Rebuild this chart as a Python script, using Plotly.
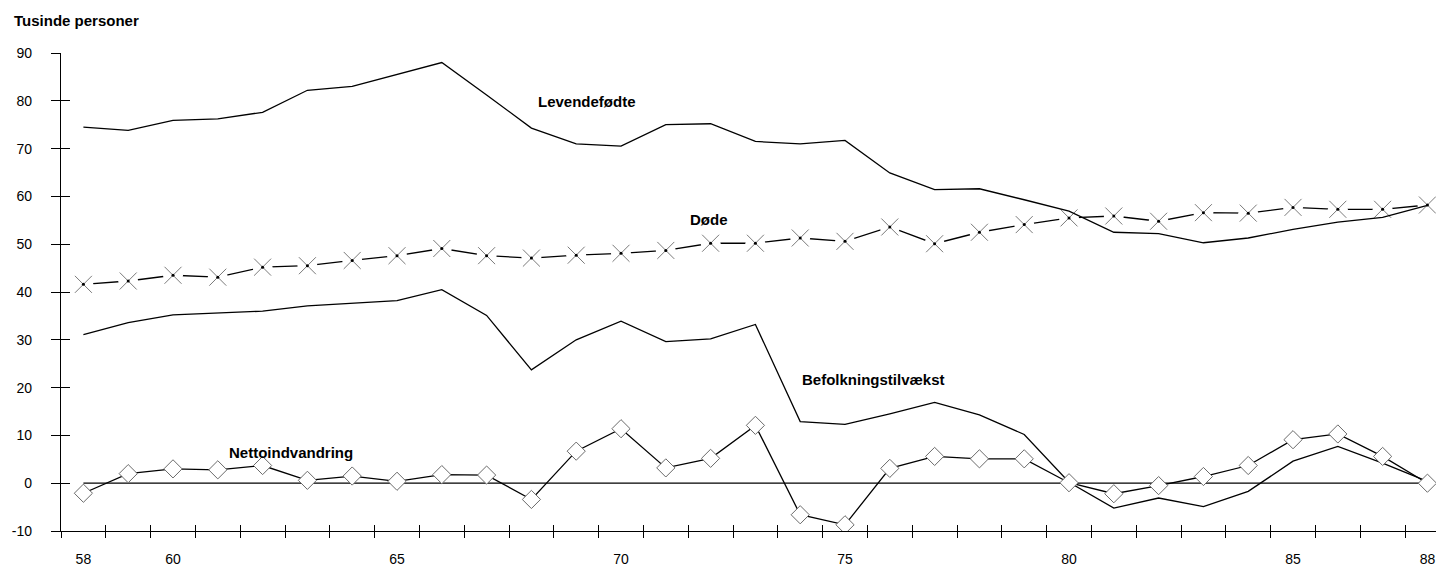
import plotly.graph_objects as go

years = list(range(58, 89))

levendefodte = [74.5, 73.8, 75.9, 76.2, 77.6, 82.2, 83.0, 85.5, 88.0, 81.2,
                74.3, 71.0, 70.5, 75.0, 75.2, 71.5, 71.0, 71.7, 64.9, 61.4,
                61.6, 59.3, 56.9, 52.5, 52.2, 50.3, 51.3, 53.1, 54.6, 55.6, 58.1]

dode = [41.6, 42.3, 43.5, 43.1, 45.2, 45.5, 46.6, 47.6, 49.1, 47.6,
        47.1, 47.7, 48.1, 48.7, 50.2, 50.2, 51.3, 50.6, 53.6, 50.1,
        52.5, 54.1, 55.5, 55.9, 54.8, 56.6, 56.5, 57.7, 57.3, 57.3, 58.2]

befolkningstilvaekst = [31.1, 33.6, 35.2, 35.6, 36.0, 37.1, 37.7, 38.2, 40.5, 35.1,
                        23.7, 30.0, 33.9, 29.6, 30.2, 33.2, 12.9, 12.3, 14.5, 16.9,
                        14.3, 10.2, 0.2, -5.2, -3.1, -4.9, -1.7, 4.6, 7.7, 4.2, 0.4]

nettoindvandring = [-2.1, 2.0, 3.0, 2.8, 3.7, 0.6, 1.5, 0.4, 1.8, 1.7,
                    -3.4, 6.7, 11.4, 3.2, 5.2, 12.1, -6.6, -8.7, 3.1, 5.6,
                    5.1, 5.1, 0.1, -2.2, -0.5, 1.4, 3.7, 9.1, 10.3, 5.6, 0.0]

zero_line = [0] * len(years)

x_label_vals = [58, 60, 65, 70, 75, 80, 85, 88]
x_label_text = ["58", "60", "65", "70", "75", "80", "85", "88"]
x_boundaries = [y - 0.5 for y in years]
y_ticks = [-10, 0, 10, 20, 30, 40, 50, 60, 70, 80, 90]
y_tick_text = ["-10", "0", "10", "20", "30", "40", "50", "60", "70", "80", "90"]

FONT = "Liberation Sans, Arial, Helvetica, sans-serif"
LW = 1.3
MARK_GREY = "#7a7a7a"

fig = go.Figure()

# zero reference line
fig.add_trace(go.Scatter(x=years, y=zero_line, mode="lines",
                         line=dict(color="black", width=LW), hoverinfo="skip"))

# Døde: line with gaps around markers
fig.add_trace(go.Scatter(x=years, y=dode, mode="lines+markers",
                         line=dict(color="black", width=LW),
                         marker=dict(symbol="circle", size=20, color="white",
                                     line=dict(width=0))))
fig.add_trace(go.Scatter(x=years, y=dode, mode="markers",
                         marker=dict(symbol="x-thin-open", size=17, color=MARK_GREY,
                                     line=dict(color=MARK_GREY, width=1))))
fig.add_trace(go.Scatter(x=years, y=dode, mode="markers",
                         marker=dict(symbol="circle", size=3, color="black",
                                     line=dict(width=0))))

# Levendefødte
fig.add_trace(go.Scatter(x=years, y=levendefodte, mode="lines",
                         line=dict(color="black", width=LW)))

# Befolkningstilvækst
fig.add_trace(go.Scatter(x=years, y=befolkningstilvaekst, mode="lines",
                         line=dict(color="black", width=LW)))

# Nettoindvandring
fig.add_trace(go.Scatter(x=years, y=nettoindvandring, mode="lines+markers",
                         line=dict(color="black", width=LW),
                         marker=dict(symbol="diamond", size=14, color="white",
                                     line=dict(color="#6a6a6a", width=1))))

# invisible anchors so the overlay axes (crossing ticks, labels) get drawn
fig.add_trace(go.Scatter(x=[years[0]], y=[0], xaxis="x2", yaxis="y2",
                         mode="markers", marker=dict(opacity=0), hoverinfo="skip"))
fig.add_trace(go.Scatter(x=[years[0]], y=[0], xaxis="x3", yaxis="y",
                         mode="markers", marker=dict(opacity=0), hoverinfo="skip"))

xrange = [57.5, 88.37]
yrange = [-10, 90]

fig.update_layout(
    width=1436, height=560,
    margin=dict(l=53, r=0, t=45, b=37, autoexpand=False),
    plot_bgcolor="white", paper_bgcolor="white",
    showlegend=False,
    font=dict(family=FONT, color="black", size=14),
    xaxis=dict(range=xrange, showgrid=False, zeroline=False, automargin=False,
               showline=True, linecolor="black", linewidth=1.2,
               tickmode="array", tickvals=x_boundaries,
               ticks="outside", ticklen=6, tickwidth=1.2, tickcolor="black",
               showticklabels=False),
    xaxis2=dict(range=xrange, overlaying="x", anchor="y2", side="bottom",
                showgrid=False, zeroline=False, showline=False, automargin=False,
                tickmode="array", tickvals=x_boundaries,
                ticks="inside", ticklen=6, tickwidth=1.2, tickcolor="black",
                showticklabels=False),
    xaxis3=dict(range=xrange, overlaying="x", anchor="y", side="bottom",
                showgrid=False, zeroline=False, showline=False, automargin=False,
                tickmode="array", tickvals=x_label_vals, ticktext=x_label_text,
                ticks="", ticklabelstandoff=18,
                tickfont=dict(family=FONT, size=14, color="black")),
    yaxis=dict(range=yrange, showgrid=False, zeroline=False, automargin=False,
               showline=True, linecolor="black", linewidth=1.2,
               tickmode="array", tickvals=y_ticks, ticktext=y_tick_text,
               ticks="outside", ticklen=9, tickwidth=1.2, tickcolor="black",
               ticklabelstandoff=16,
               tickfont=dict(family=FONT, size=14, color="black")),
    yaxis2=dict(range=yrange, overlaying="y", anchor="x2", side="left",
                showgrid=False, zeroline=False, showline=False, automargin=False,
                tickmode="array", tickvals=y_ticks,
                ticks="inside", ticklen=9, tickwidth=1.2, tickcolor="black",
                showticklabels=False),
)

bold = dict(family=FONT, size=15, color="black")
annotations = [
    dict(text="<b>Tusinde personer</b>", xref="paper", yref="paper",
         x=-0.0354, y=1.068, xanchor="left", yanchor="middle", font=bold,
         showarrow=False),
    dict(text="<b>Levendefødte</b>", xref="x", yref="y", x=68.1, y=79.9,
         xanchor="left", yanchor="middle", font=bold, showarrow=False),
    dict(text="<b>Døde</b>", xref="x", yref="y", x=71.5, y=55.2,
         xanchor="left", yanchor="middle", font=bold, showarrow=False),
    dict(text="<b>Befolkningstilvækst</b>", xref="x", yref="y", x=74.0, y=21.7,
         xanchor="left", yanchor="middle", font=bold, showarrow=False),
    dict(text="<b>Nettoindvandring</b>", xref="x", yref="y", x=61.2, y=6.4,
         xanchor="left", yanchor="middle", font=bold, showarrow=False),
]
fig.update_layout(annotations=annotations)

fig.write_html("out.html")
